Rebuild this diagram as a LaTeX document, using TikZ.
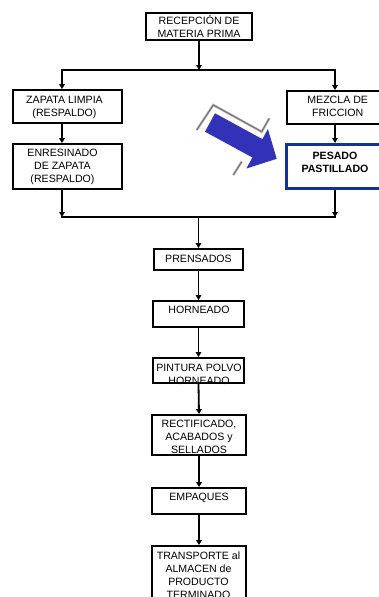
\documentclass[tikz,border=0pt]{standalone}
\usepackage{fontspec}
\setmainfont{Liberation Sans}
\usetikzlibrary{arrows.meta}
\definecolor{arrowblue}{RGB}{50,50,185}
\definecolor{boxblue}{RGB}{20,50,150}
\definecolor{shadowgray}{RGB}{120,120,120}
\definecolor{halogray}{RGB}{205,205,205}
\begin{document}
\begin{tikzpicture}[x=1pt,y=-1pt,
  box/.style={draw=black, line width=1.8pt, fill=white, inner sep=0pt},
  bluebox/.style={draw=boxblue, line width=3pt, fill=white, inner sep=0pt},
  txt/.style={anchor=north, inner sep=0pt, align=center, font=\fontsize{10.6}{13}\selectfont},
  conn/.style={line width=1.8pt, draw=black, line cap=rect},
  arr/.style={line width=1.8pt, draw=black, -{Triangle[length=5pt,width=5.5pt]}},
  shadowline/.style={draw=shadowgray, line width=1.3pt},
  haloline/.style={draw=halogray, line width=2.6pt},
]
\useasboundingbox (0,0) rectangle (379,597);
\clip (0,0) rectangle (379,597);
\fill[white] (0,0) rectangle (379,597);

% boxes
\node[box, minimum width=106, minimum height=27] (rec) at (199,26.5) {};
\node[box, minimum width=109, minimum height=33] (zap) at (67.5,106.5) {};
\node[box, minimum width=109, minimum height=45] (enr) at (67.5,166.5) {};
\node[box, minimum width=102, minimum height=33] (mez) at (338,107.5) {};
\node[bluebox, minimum width=102, minimum height=44] (pes) at (337.5,166.5) {};
\node[box, minimum width=89, minimum height=21] (pren) at (198.5,259.5) {};
\node[box, minimum width=91, minimum height=26] (horn) at (198.5,314) {};
\node[box, minimum width=91, minimum height=25] (pint) at (198.5,370.5) {};
\node[box, minimum width=94, minimum height=40] (rect) at (199,435) {};
\node[box, minimum width=94, minimum height=26] (emp) at (199,501) {};
\node[box, minimum width=94, minimum height=74] (trans) at (199,583) {};

% texts
\node[txt] (recT) at (199,15.4) {RECEPCIÓN DE\\MATERIA PRIMA};
\node[txt] (zapT) at (64.5,96) {ZAPATA LIMPIA\\(RESPALDO)};
\node[txt] (enrT) at (62.5,148.5) {ENRESINADO\\DE ZAPATA\\(RESPALDO)};
\node[txt] (mezT) at (337.7,96) {MEZCLA DE\\FRICCION};
\node[txt, font=\fontsize{10.6}{13}\selectfont\bfseries] (pesT) at (335,152) {PESADO\\PASTILLADO};
\node[txt] (prenT) at (198.5,255) {PRENSADOS};
\node[txt] (hornT) at (199,306) {HORNEADO};
\node[txt] (pintT) at (199,363.5) {PINTURA POLVO\\HORNEADO};
\node[txt] (rectT) at (199,420) {RECTIFICADO,\\ACABADOS y\\SELLADOS};
\node[txt] (empT) at (199,492.7) {EMPAQUES};
\node[txt] (transT) at (198.5,552) {TRANSPORTE al\\ALMACEN de\\PRODUCTO\\TERMINADO};

% junction points
\coordinate (jtop) at (199,70);
\coordinate (jl) at (62,70);
\coordinate (jr) at (335,70);
\coordinate (bl) at (62,217);
\coordinate (br) at (335,217);
\coordinate (bc) at (198.5,217);

% connectors
\draw[conn] (jl) -- (jr);
\draw[conn] (bl) -- (br);
\draw[arr] (rec.south) -- (jtop);
\draw[arr] (jl) -- (zap.north -| jl);
\draw[arr] (jr) -- (mez.north -| jr);
\draw[arr] (zap.south -| jl) -- (enr.north -| jl);
\draw[arr] (mez.south -| jr) -- (pes.north -| jr);
\draw[arr] (enr.south -| bl) -- (bl);
\draw[arr] (pes.south -| br) -- (br);
\draw[arr] (bc) -- (pren.north);
\draw[arr] (pren.south) -- (horn.north);
\draw[arr] (horn.south) -- (pint.north);
\draw[arr] (pint.south) -- (rect.north);
\draw[arr] (rect.south) -- (emp.north);
\draw[arr] (emp.south) -- (trans.north);

% big blue arrow with grey 3D edges
\draw[haloline] (196.7,130) -- (213.3,105) -- (261.7,131.7) -- (269.3,118.3);
\draw[haloline] (233.3,175) -- (241.7,161.7);
\draw[shadowline] (196.7,130) -- (213.3,105) -- (261.7,131.7) -- (269.3,118.3);
\draw[shadowline] (233.3,175) -- (241.7,161.7);
\fill[arrowblue] (215,113.3) -- (262.4,139.1) -- (267.9,129) -- (276.7,158.8)
  -- (246.4,168.5) -- (252.4,157.5) -- (205,131.7) -- cycle;
\end{tikzpicture}
\end{document}
